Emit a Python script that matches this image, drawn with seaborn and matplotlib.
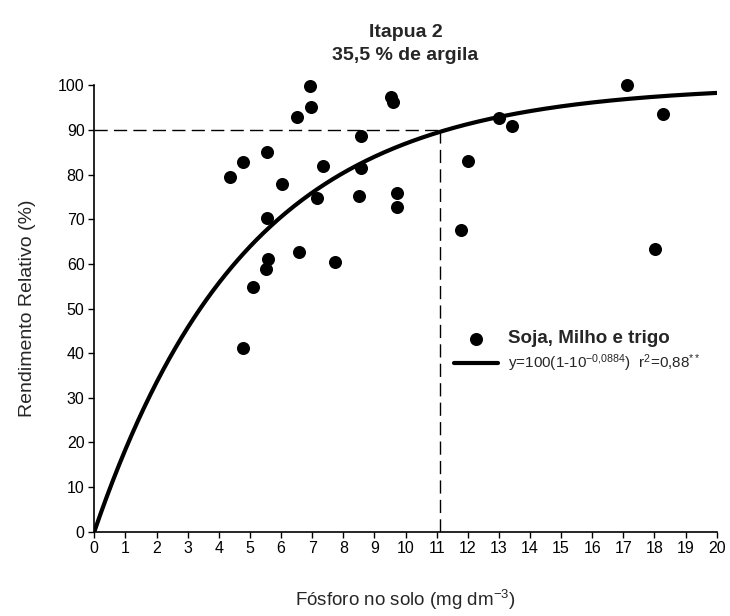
import numpy as np
import pandas as pd
import matplotlib
matplotlib.use("Agg")
import matplotlib.pyplot as plt
import seaborn as sns

# Data
fosforo = [6.92, 6.97, 6.50, 8.57, 5.54, 4.77, 4.37, 6.03, 7.34, 8.57,
           7.15, 8.51, 5.54, 6.59, 7.73, 5.57, 5.51, 5.09, 4.77, 9.53,
           9.59, 13.0, 13.41, 17.11, 18.26, 12.0, 9.74, 9.74, 11.77, 18.02]
rendimento = [99.9, 95.2, 93.0, 88.6, 85.0, 82.8, 79.5, 77.9, 81.9, 81.4,
              74.7, 75.3, 70.3, 62.7, 60.4, 61.2, 58.9, 54.9, 41.1, 97.4,
              96.2, 92.7, 90.9, 100.1, 93.5, 83.1, 75.8, 72.7, 67.6, 63.3]
coef = 0.0884          # model coefficient from the legend
critical_x = 11.1      # critical level (90 % relative yield)
critical_y = 90
x_ticks = list(range(0, 21))
y_ticks = list(range(0, 101, 10))

title = "Itapua 2\n35,5 % de argila"
xlabel = "Fósforo no solo (mg dm$^{-3}$)"
ylabel = "Rendimento Relativo (%)"
label_pts = "Soja, Milho e trigo"
label_fit = "y=100(1-10$^{-0{,}0884}$)  r$^2$=0,88$^{**}$"

sns.set_style("ticks")
plt.rcParams["font.family"] = ["Liberation Sans", "DejaVu Sans"]
plt.rcParams["mathtext.fontset"] = "custom"
plt.rcParams["mathtext.rm"] = "Liberation Sans"
plt.rcParams["mathtext.it"] = "Liberation Sans"
plt.rcParams["mathtext.bf"] = "Liberation Sans:bold"
plt.rcParams["mathtext.default"] = "regular"

fig = plt.figure(figsize=(7.3, 6.16), dpi=100)
ax = fig.add_axes([94.3 / 730, 1 - 531.7 / 616, (716.7 - 94.3) / 730, (531.7 - 85.3) / 616])

df_pts = pd.DataFrame({"x": fosforo, "y": rendimento})
xs = np.linspace(0, 20, 400)
df_fit = pd.DataFrame({"x": xs, "y": 100 * (1 - 10 ** (-coef * xs))})

# dashed critical-level guides
ax.plot([0, critical_x], [critical_y, critical_y], color="black", lw=1.0,
        dashes=(9.5, 4.5), zorder=1)
ax.plot([critical_x, critical_x], [0, critical_y], color="black", lw=1.0,
        dashes=(9.5, 4.5), zorder=1)

sns.lineplot(data=df_fit, x="x", y="y", ax=ax, color="black", lw=3.0,
             label=label_fit, zorder=2, legend=False)
sns.scatterplot(data=df_pts, x="x", y="y", ax=ax, color="black", s=88,
                edgecolor="black", linewidth=0, label=label_pts, zorder=3,
                legend=False, clip_on=False)

ax.set_xlim(0, 20)
ax.set_ylim(0, 100)
ax.set_xticks(x_ticks)
ax.set_yticks(y_ticks)
ax.tick_params(direction="out", length=4, width=1, labelsize=11.5,
               colors="black", pad=3)
for s in ["left", "bottom"]:
    ax.spines[s].set_linewidth(1.2)
    ax.spines[s].set_color("black")
sns.despine(ax=ax)

ax.set_xlabel(xlabel, fontsize=13.5, labelpad=23)
ax.set_ylabel(ylabel, fontsize=14, labelpad=16)
ax.set_title(title, fontsize=14, fontweight="bold", pad=18, linespacing=1.45)

handles, labels = ax.get_legend_handles_labels()
h = dict(zip(labels, handles))
leg = ax.legend([h[label_pts], h[label_fit]], [label_pts, label_fit],
                loc="upper left", bbox_to_anchor=(448 / 730, 1 - 324 / 616),
                bbox_transform=fig.transFigure, frameon=False, fontsize=11,
                handlelength=2.9, handletextpad=0.65, borderaxespad=0,
                labelspacing=0.35)
leg.get_texts()[0].set_fontweight("bold")
leg.get_texts()[0].set_fontsize(13.5)

fig.savefig("out.png", dpi=100)
